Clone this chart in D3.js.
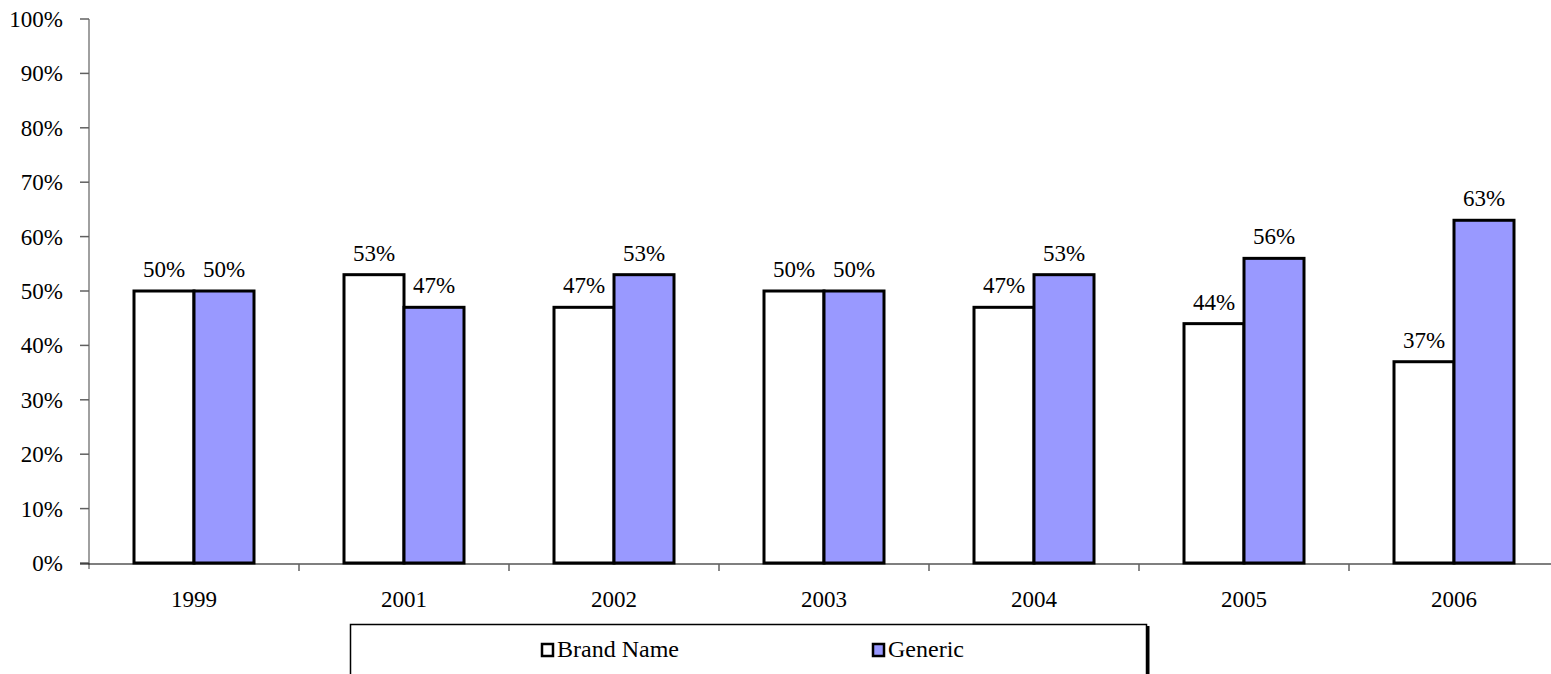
<!DOCTYPE html>
<html><head><meta charset="utf-8">
<script src="https://cdn.jsdelivr.net/npm/d3@7"></script>
<style>body{margin:0;background:#fff}svg{display:block}</style>
</head><body>
<svg id="c" width="1551" height="674" font-family="'Liberation Serif', 'Times New Roman', Times, serif"></svg>
<script>
const years = ["1999","2001","2002","2003","2004","2005","2006"];
const seriesNames = ["Brand Name","Generic"];
const brandName = [50,53,47,50,47,44,37];
const generic = [50,47,53,50,53,56,63];
const yTicks = [0,10,20,30,40,50,60,70,80,90,100];
const colors = ["#FFFFFF","#9999FF"];

(function(){
const svg = d3.select("#c");
const FF = "'Liberation Serif', 'Times New Roman', Times, serif";
const pL = 89, pR = 1559, pT = 19, pB = 563;
const x0 = d3.scaleBand().domain(years).range([pL,pR]).paddingInner(90/210).paddingOuter(45/210);
const x1 = d3.scaleBand().domain(seriesNames).range([0,x0.bandwidth()]);
const y = d3.scaleLinear().domain([0,100]).range([pB,pT]);
const values = [brandName, generic];

// y axis
svg.append("line").attr("x1",pL).attr("x2",pL).attr("y1",pT).attr("y2",pB+6).attr("stroke","#808080").attr("stroke-width",1.5);
const yg = svg.append("g");
yTicks.forEach(t=>{
  yg.append("line").attr("x1",pL-9).attr("x2",pL).attr("y1",y(t)).attr("y2",y(t)).attr("stroke","#606060").attr("stroke-width",1.5);
  yg.append("text").attr("font-family",FF).attr("x",63).attr("y",y(t)).attr("dy","0.35em").attr("text-anchor","end").attr("font-size",23).text(t+"%");
});

// bars
const g = svg.append("g");
years.forEach((yr,i)=>{
  seriesNames.forEach((s,j)=>{
    const v = values[j][i];
    g.append("rect").attr("x",x0(yr)+x1(s)).attr("y",y(v)).attr("width",x1.bandwidth()).attr("height",y(0)-y(v))
      .attr("fill",colors[j]).attr("stroke","#000").attr("stroke-width",3);
    g.append("text").attr("font-family",FF).attr("x",x0(yr)+x1(s)+x1.bandwidth()/2).attr("y",y(v)-14).attr("text-anchor","middle").attr("font-size",23).text(v+"%");
  });
});

// x axis
svg.append("line").attr("x1",pL-9).attr("x2",1551).attr("y1",pB+1).attr("y2",pB+1).attr("stroke","#000").attr("stroke-width",1.2);
years.forEach((yr,i)=>{
  const bx = x0(yr) - x0.step()*x0.paddingOuter();
  if(i>0) svg.append("line").attr("x1",bx).attr("x2",bx).attr("y1",pB+1).attr("y2",pB+8).attr("stroke","#606060").attr("stroke-width",1.5);
  svg.append("text").attr("font-family",FF).attr("x",x0(yr)+x0.bandwidth()/2).attr("y",607).attr("text-anchor","middle").attr("font-size",23).text(yr);
});

// legend
const lg = svg.append("g");
lg.append("rect").attr("x",350.5).attr("y",624.5).attr("width",796).attr("height",70).attr("fill","#fff").attr("stroke","#000").attr("stroke-width",1.5);
lg.append("line").attr("x1",1148).attr("x2",1148).attr("y1",626).attr("y2",674).attr("stroke","#000").attr("stroke-width",3);
const lx = [542, 873];
seriesNames.forEach((s,j)=>{
  lg.append("rect").attr("x",lx[j]).attr("y",644).attr("width",11).attr("height",12).attr("fill",colors[j]).attr("stroke","#000").attr("stroke-width",2.5);
  lg.append("text").attr("font-family",FF).attr("x",lx[j]+15).attr("y",657).attr("font-size",24).text(s);
});
})();
</script>
</body></html>
